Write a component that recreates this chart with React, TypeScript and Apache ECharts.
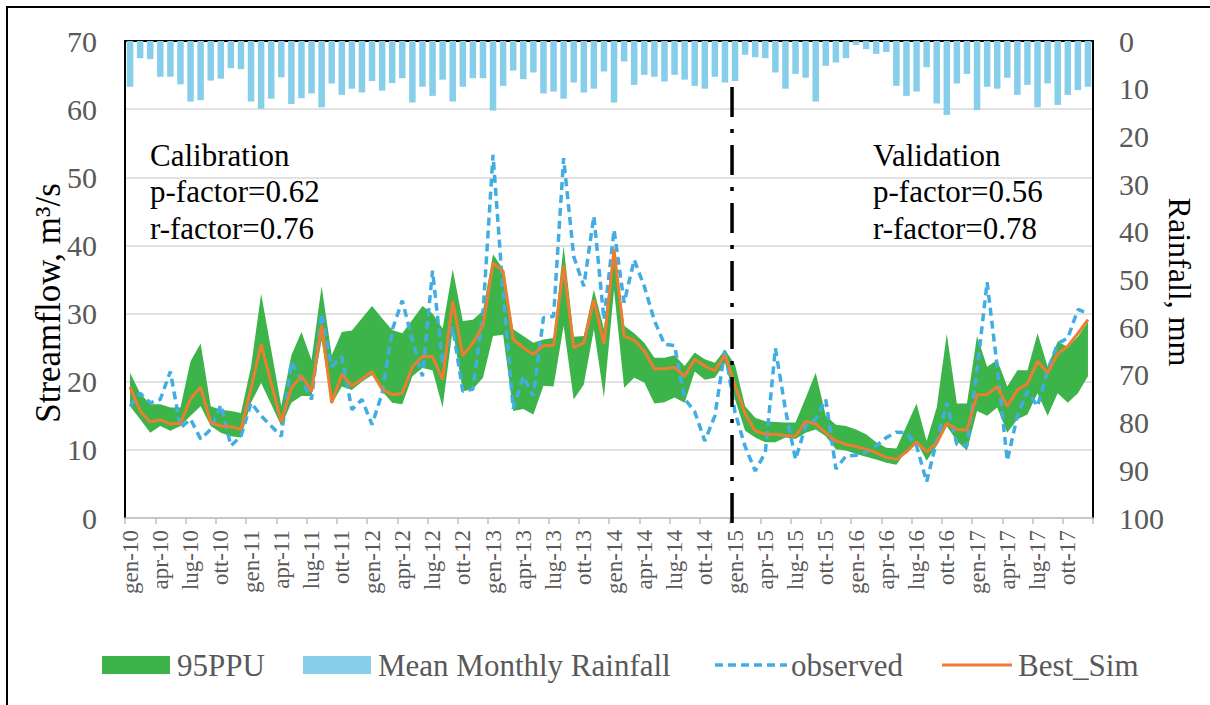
import React, { useEffect, useRef } from "react";
import * as echarts from "echarts";

const monthNames = ["gen", "feb", "mar", "apr", "mag", "giu", "lug", "ago", "set", "ott", "nov", "dic"];
const years = ["10", "11", "12", "13", "14", "15", "16", "17"];
const categories = years.flatMap((y) => monthNames.map((m) => `${m}-${y}`));

const leftTicks = [0, 10, 20, 30, 40, 50, 60, 70];
const rightTicks = [0, 10, 20, 30, 40, 50, 60, 70, 80, 90, 100];

const rainfall = [
  9.6, 3.6, 3.8, 7.5, 7.5, 9.1, 12.7, 12.4, 8.3, 7.9,
  5.7, 5.9, 12.7, 14.2, 12.1, 7.6, 13.2, 12.0, 11.0, 13.9,
  8.9, 11.3, 10.0, 10.8, 8.4, 10.4, 8.8, 7.8, 12.9, 9.6,
  11.5, 8.1, 12.7, 9.6, 7.8, 7.8, 14.6, 9.4, 6.2, 8.0,
  6.6, 11.0, 10.6, 12.1, 8.7, 10.8, 10.0, 6.4, 12.9, 4.3,
  9.2, 7.1, 7.5, 8.5, 7.1, 8.1, 9.4, 10.0, 7.5, 8.7,
  8.4, 2.9, 3.4, 3.6, 6.6, 10.0, 6.9, 7.7, 12.7, 5.2,
  4.5, 3.6, 0.8, 1.7, 2.7, 2.3, 9.4, 11.5, 10.6, 5.5,
  13.1, 15.5, 8.9, 6.9, 14.5, 9.6, 10.0, 7.7, 11.3, 9.2,
  13.9, 8.9, 13.4, 11.3, 10.3, 9.6,
];

const ppuHigh = [
  21.3, 18.3, 16.7, 16.7, 16.2, 16.2, 23.0, 25.6, 16.4, 15.9,
  15.7, 15.4, 22.2, 32.9, 24.7, 16.4, 23.9, 27.3, 23.2, 34.0,
  23.9, 27.3, 27.5, 29.3, 31.1, 29.3, 27.6, 27.1, 29.1, 31.1,
  30.0, 27.8, 36.5, 28.9, 29.1, 30.4, 38.7, 36.5, 27.7, 26.7,
  25.7, 26.2, 26.4, 39.9, 26.6, 26.7, 33.5, 27.7, 40.1, 28.2,
  27.1, 25.7, 23.5, 23.5, 23.9, 22.3, 24.3, 23.3, 22.8, 24.7,
  22.5, 16.4, 14.7, 14.2, 14.1, 14.0, 14.0, 17.6, 21.3, 15.0,
  13.7, 13.5, 13.0, 12.3, 11.1, 10.3, 10.2, 13.5, 16.8, 11.3,
  16.2, 27.0, 16.8, 16.8, 26.7, 22.2, 23.2, 19.3, 21.7, 21.7,
  27.1, 22.2, 25.9, 25.1, 26.6, 28.8,
];

const ppuLow = [
  16.4, 14.5, 12.5, 13.5, 12.8, 13.5, 15.0, 16.4, 13.5, 12.5,
  12.0, 11.8, 16.9, 19.8, 16.7, 13.5, 16.9, 17.9, 17.9, 26.1,
  16.7, 19.3, 18.8, 20.0, 21.0, 18.6, 16.9, 16.7, 20.8, 22.0,
  21.7, 16.2, 27.7, 18.6, 18.9, 20.6, 26.7, 26.9, 15.7, 16.0,
  15.2, 19.4, 19.3, 28.2, 17.4, 19.6, 27.7, 17.7, 33.5, 19.1,
  20.6, 19.9, 16.8, 17.0, 17.7, 16.9, 21.5, 20.3, 20.6, 22.8,
  17.4, 12.8, 11.8, 11.1, 11.1, 11.8, 11.6, 12.5, 13.0, 12.0,
  10.1, 9.9, 9.4, 9.0, 8.6, 8.1, 7.8, 9.9, 11.2, 8.4,
  10.6, 13.5, 11.3, 9.9, 15.7, 15.0, 16.2, 12.5, 14.5, 15.2,
  18.3, 15.0, 18.3, 16.9, 18.3, 20.8,
];

const bestSim = [
  19.2, 15.7, 14.1, 14.4, 13.8, 13.9, 17.5, 19.2, 14.0, 13.5,
  13.4, 13.0, 19.0, 25.5, 19.8, 14.1, 19.1, 20.9, 18.6, 28.3,
  16.9, 21.1, 19.4, 20.4, 21.5, 18.9, 18.1, 18.3, 22.2, 23.7,
  23.7, 20.3, 31.8, 23.8, 25.7, 28.2, 37.4, 36.2, 26.2, 25.0,
  24.0, 25.3, 25.3, 37.0, 25.0, 25.7, 32.0, 25.5, 39.4, 26.7,
  26.1, 24.5, 21.9, 21.9, 22.1, 20.8, 23.3, 22.3, 21.6, 23.9,
  19.4, 15.3, 12.8, 12.3, 12.3, 12.1, 12.0, 14.2, 13.8, 12.5,
  11.3, 10.8, 10.5, 10.1, 9.6, 8.9, 8.6, 9.7, 11.2, 9.7,
  11.0, 13.9, 13.0, 12.9, 18.1, 18.1, 19.3, 16.4, 18.8, 19.7,
  23.0, 21.3, 24.1, 25.2, 27.1, 29.1,
];

const observed = [
  16.4, 18.3, 16.9, 17.4, 21.5, 13.2, 14.5, 11.6, 13.0, 16.6,
  10.6, 12.0, 16.9, 15.0, 13.5, 12.0, 22.9, 20.3, 17.4, 30.0,
  22.2, 23.7, 15.9, 17.4, 13.7, 18.3, 27.6, 31.9, 26.1, 20.8,
  36.3, 22.7, 28.0, 18.6, 18.9, 30.0, 53.3, 33.0, 16.0, 20.8,
  17.9, 29.4, 29.6, 52.8, 38.4, 34.0, 44.3, 29.1, 42.3, 31.6,
  37.9, 34.0, 29.0, 25.5, 25.3, 17.5, 15.6, 11.3, 15.0, 24.7,
  15.5, 10.5, 6.9, 9.6, 24.9, 15.9, 8.6, 13.5, 14.5, 17.4,
  7.2, 9.1, 9.2, 9.7, 10.6, 11.8, 12.6, 12.5, 10.6, 5.3,
  11.3, 16.9, 10.8, 10.6, 21.7, 34.6, 22.2, 8.4, 15.0, 18.6,
  16.4, 21.7, 25.6, 26.4, 30.6, 30.0,
];

const splitCategory = "gen-15";

const FONT = "'Liberation Serif', 'Times New Roman', serif";
const GRAY = "#595959";
const GREEN = "#3CB44A";
const SKY = "#87CEEB";
const BLUE = "#41ADE3";
const ORANGE = "#ED7D31";

function txt(text: string, x: number, y: number, size: number, color: string, extra: any = {}) {
  return {
    type: "text",
    x,
    y,
    rotation: extra.rotation || 0,
    z: 10,
    style: {
      text,
      fontSize: size,
      fontFamily: FONT,
      fill: color,
      textAlign: extra.align || "left",
      textVerticalAlign: "middle",
      align: extra.align || "left",
      verticalAlign: "middle",
    },
  };
}

export default function App() {
  const ref = useRef<HTMLDivElement>(null);

  useEffect(() => {
    if (!ref.current) return;
    const chart = echarts.init(ref.current, null, { renderer: "svg" });
    const bandDiff = ppuHigh.map((v, i) => +(v - ppuLow[i]).toFixed(2));

    const option: any = {
      animation: false,
      backgroundColor: "#ffffff",
      grid: { left: 125, right: 117, top: 41, bottom: 187, containLabel: false },
      xAxis: [
        {
          type: "category",
          data: categories,
          boundaryGap: true,
          axisLine: { lineStyle: { color: "#BFBFBF", width: 1.5 } },
          axisTick: { show: true, interval: 2, length: 6, lineStyle: { color: "#BFBFBF", width: 1.5 } },
          axisLabel: {
            interval: 2,
            rotate: 90,
            fontSize: 23,
            fontFamily: FONT,
            color: GRAY,
            margin: 12,
          },
          splitLine: { show: false },
        },
        {
          type: "category",
          data: categories,
          position: "top",
          boundaryGap: true,
          axisLine: { show: true, lineStyle: { color: "#000", width: 2 } },
          axisTick: { show: false },
          axisLabel: { show: false },
          splitLine: { show: false },
        },
      ],
      yAxis: [
        {
          type: "value",
          min: leftTicks[0],
          max: leftTicks[leftTicks.length - 1],
          interval: 10,
          axisLine: { show: true, lineStyle: { color: "#000", width: 2 } },
          axisTick: { show: false },
          axisLabel: { fontSize: 30, fontFamily: FONT, color: GRAY, margin: 28 },
          splitLine: { lineStyle: { color: "#D9D9D9", width: 1.5 } },
        },
        {
          type: "value",
          position: "right",
          inverse: true,
          min: rightTicks[0],
          max: rightTicks[rightTicks.length - 1],
          interval: 10,
          axisLine: { show: true, lineStyle: { color: "#000", width: 2 } },
          axisTick: { show: false },
          axisLabel: { fontSize: 30, fontFamily: FONT, color: GRAY, margin: 26 },
          splitLine: { show: false },
        },
      ],
      series: [
        {
          name: "Mean Monthly Rainfall",
          type: "bar",
          xAxisIndex: 0,
          yAxisIndex: 1,
          data: rainfall,
          barWidth: 6.5,
          itemStyle: { color: SKY },
          z: 1,
        },
        {
          name: "ppuLow",
          type: "line",
          stack: "ppu",
          data: ppuLow,
          symbol: "none",
          lineStyle: { width: 0, opacity: 0 },
          silent: true,
          z: 2,
        },
        {
          name: "95PPU",
          type: "line",
          stack: "ppu",
          data: bandDiff,
          symbol: "none",
          lineStyle: { width: 0, opacity: 0 },
          areaStyle: { color: GREEN, opacity: 1 },
          silent: true,
          z: 2,
        },
        {
          name: "observed",
          type: "line",
          data: observed,
          symbol: "none",
          lineStyle: { color: BLUE, width: 3.5, type: [8, 5] },
          z: 3,
        },
        {
          name: "Best_Sim",
          type: "line",
          data: bestSim,
          symbol: "none",
          lineStyle: { color: ORANGE, width: 3 },
          z: 4,
        },
      ],
    };
    chart.setOption(option);

    const sx = chart.convertToPixel({ xAxisIndex: 0 }, splitCategory) as number;

    const graphics: any[] = [
      {
        type: "rect",
        shape: { x: 7, y: 7, width: 1300, height: 800 },
        style: { fill: "none", stroke: "#000", lineWidth: 2 },
        z: 0,
        silent: true,
      },
      {
        type: "line",
        shape: { x1: sx - 3, y1: 87, x2: sx - 3, y2: 530 },
        style: { stroke: "#000", lineWidth: 3.5, lineDash: [30, 12, 4, 12] },
        z: 20,
      },
      txt("Calibration", 150, 155, 31, "#000"),
      txt("p-factor=0.62", 150, 191, 31, "#000"),
      txt("r-factor=0.76", 150, 228, 31, "#000"),
      txt("Validation", 873, 155, 31, "#000"),
      txt("p-factor=0.56", 873, 191, 31, "#000"),
      txt("r-factor=0.78", 873, 228, 31, "#000"),
      txt("Streamflow, m³/s", 48, 303, 35, "#000", { rotation: Math.PI / 2, align: "center" }),
      txt("Rainfall, mm", 1180, 282, 32, "#000", { rotation: -Math.PI / 2, align: "center" }),
      { type: "rect", shape: { x: 102, y: 656, width: 68, height: 18 }, style: { fill: GREEN } },
      txt("95PPU", 177, 665, 31, GRAY),
      { type: "rect", shape: { x: 303, y: 656, width: 68, height: 18 }, style: { fill: SKY } },
      txt("Mean Monthly Rainfall", 378, 665, 31, GRAY),
      {
        type: "line",
        shape: { x1: 715, y1: 665, x2: 787, y2: 665 },
        style: { stroke: BLUE, lineWidth: 3.5, lineDash: [8, 5] },
      },
      txt("observed", 791, 665, 31, GRAY),
      {
        type: "line",
        shape: { x1: 942, y1: 665, x2: 1012, y2: 665 },
        style: { stroke: ORANGE, lineWidth: 3 },
      },
      txt("Best_Sim", 1018, 665, 31, GRAY),
    ];
    chart.setOption({ graphic: graphics });

    return () => chart.dispose();
  }, []);

  return (
    <div
      ref={ref}
      style={{ position: "absolute", left: 0, top: 0, width: 1210, height: 705, background: "#fff" }}
    />
  );
}
